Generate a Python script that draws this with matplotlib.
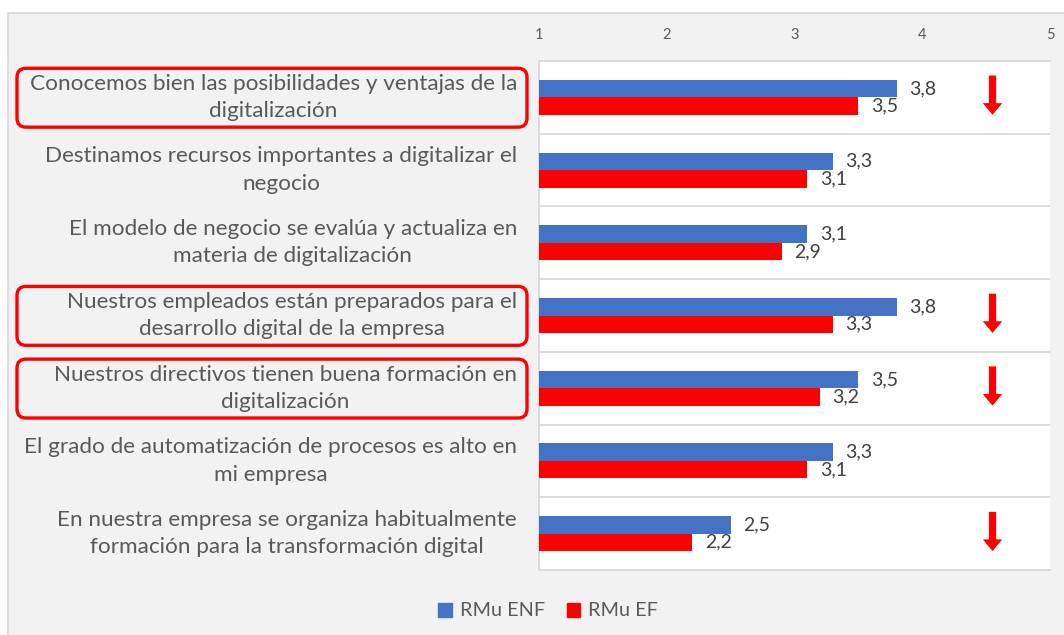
import matplotlib
matplotlib.use("Agg")
import matplotlib.pyplot as plt
from matplotlib.patches import Rectangle, FancyBboxPatch, FancyArrowPatch

plt.rcParams['font.family'] = ['Lato', 'DejaVu Sans']

categories = [
    "Conocemos bien las posibilidades y ventajas de la\ndigitalización",
    "Destinamos recursos importantes a digitalizar el\nnegocio",
    "El modelo de negocio se evalúa y actualiza en\nmateria de digitalización",
    "Nuestros empleados están preparados para el\ndesarrollo digital de la empresa",
    "Nuestros directivos tienen buena formación en\ndigitalización",
    "El grado de automatización de procesos es alto en\nmi empresa",
    "En nuestra empresa se organiza habitualmente\nformación para la transformación digital",
]
rmu_enf = [3.8, 3.3, 3.1, 3.8, 3.5, 3.3, 2.5]
rmu_ef = [3.5, 3.1, 2.9, 3.3, 3.2, 3.1, 2.2]
series_names = ["RMu ENF", "RMu EF"]
x_ticks = [1, 2, 3, 4, 5]
highlighted = [True, False, False, True, True, False, False]
arrow_down = [True, False, False, True, True, False, True]

BLUE = "#4472C4"
RED = "#FF0000"
TXT = "#595959"
W, H = 1064, 635

fig = plt.figure(figsize=(W / 100, H / 100), dpi=100, facecolor="white")

# chart area background
fig.add_artist(Rectangle((8 / W, -0.01), 1.0, (H - 13) / H + 0.01, transform=fig.transFigure,
                         facecolor="#F2F2F2", edgecolor="#D9D9D9", linewidth=1.2, zorder=0))

px0, px1, py0, py1 = 539, 1050, 61, 570
ax = fig.add_axes([px0 / W, 1 - py1 / H, (px1 - px0) / W, (py1 - py0) / H])
ax.set_facecolor("white")

n = len(categories)
rows = list(range(n))
bh = 0.24
ax.barh([r - bh / 2 for r in rows], [v - 1 for v in rmu_enf], left=1, height=bh,
        color=BLUE, label=series_names[0], zorder=3)
ax.barh([r + bh / 2 for r in rows], [v - 1 for v in rmu_ef], left=1, height=bh,
        color=RED, label=series_names[1], zorder=3)

for r, v in zip(rows, rmu_enf):
    ax.annotate(f"{v:.1f}".replace(".", ","), (v, r - bh / 2), xytext=(9, 0),
                textcoords="offset points", va="center", ha="left", fontsize=14, color="#404040")
for r, v in zip(rows, rmu_ef):
    ax.annotate(f"{v:.1f}".replace(".", ","), (v, r + bh / 2), xytext=(9, 0),
                textcoords="offset points", va="center", ha="left", fontsize=14, color="#404040")

ax.set_xlim(1, 5)
ax.set_ylim(n - 0.5, -0.5)
ax.set_xticks(x_ticks)
ax.xaxis.tick_top()
ax.tick_params(axis="x", length=0, pad=14, labelsize=10.5, labelcolor=TXT)
ax.set_yticks(rows)
ax.set_yticklabels([])
ax.tick_params(axis="y", length=0)
for b in [r + 0.5 for r in rows[:-1]]:
    ax.axhline(b, color="#D9D9D9", linewidth=1.3, zorder=1)
for s in ["top", "bottom", "left"]:
    ax.spines[s].set_color("#D9D9D9")
    ax.spines[s].set_linewidth(1.3)
ax.spines["right"].set_visible(False)

# category labels
for r, c in zip(rows, categories):
    ax.annotate(c, (0, r), xycoords=("axes fraction", "data"), xytext=(-22, 0),
                textcoords="offset pixels", ha="right", va="center", multialignment="center",
                fontsize=16.2, color=TXT, linespacing=1.45)

# arrows
for r, a in zip(rows, arrow_down):
    if a:
        ax.add_patch(FancyArrowPatch((4.55, r - 0.30), (4.55, r + 0.24),
                                     arrowstyle="simple,head_length=0.42,head_width=0.7,tail_width=0.26",
                                     mutation_scale=20, color=RED, linewidth=0, zorder=4,
                                     shrinkA=0, shrinkB=0))

# highlight boxes
fig.canvas.draw()
for r, h in zip(rows, highlighted):
    if h:
        ytop = ax.transData.transform((1, r - 0.40))[1]
        ybot = ax.transData.transform((1, r + 0.41))[1]
        x0, x1 = 17, 527
        fig.add_artist(FancyBboxPatch((x0 / W, ybot / H), (x1 - x0) / W, (ytop - ybot) / H,
                                      boxstyle=f"round,pad=0,rounding_size={9 / W}",
                                      mutation_aspect=W / H, transform=fig.transFigure,
                                      facecolor="none", edgecolor=RED, linewidth=2.4, zorder=5))

handles = [Rectangle((0, 0), 1, 1, color=BLUE), Rectangle((0, 0), 1, 1, color=RED)]
fig.legend(handles, series_names, loc="center", bbox_to_anchor=(548 / W, 1 - 611 / H), ncol=2,
           frameon=False, fontsize=14.3, handlelength=0.7, handleheight=0.7, handletextpad=0.4,
           columnspacing=1.1, labelcolor=TXT)

fig.savefig("out.png", dpi=100, facecolor="white")
